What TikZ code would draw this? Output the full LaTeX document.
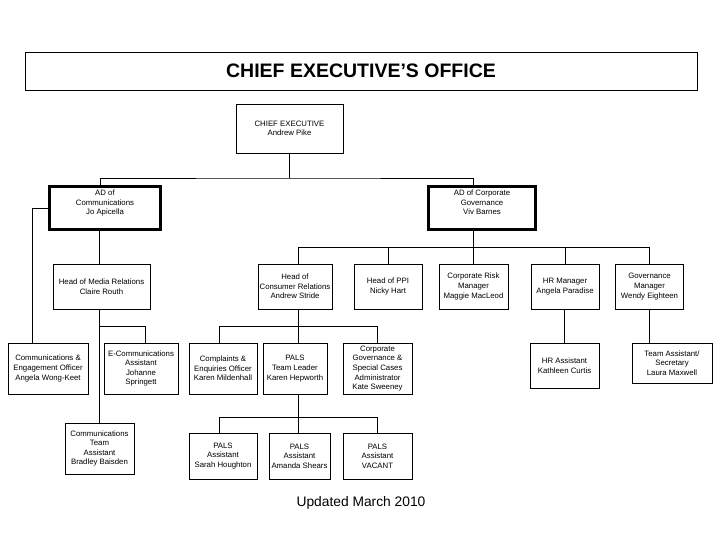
\documentclass[tikz,border=0pt]{standalone}
\usepackage{fontspec}
\setmainfont{Liberation Sans}
\usepackage{tikz}

\begin{document}
\begin{tikzpicture}[
  x=1pt, y=-1pt,
  every node/.style={font=\fontsize{7.8}{9.6}\selectfont, align=center, inner sep=1pt},
  post/.style={draw, line width=0.9pt, minimum height=45pt},
  director/.style={draw, line width=2.7pt, minimum height=43.4pt, text depth=11pt},
  link/.style={line width=0.9pt}
]
\useasboundingbox (0,0) rectangle (720,540);

% Office banner.
\node[draw, line width=0.9pt, minimum width=672pt, minimum height=38pt,
  font=\fontsize{19.5}{23}\selectfont\bfseries] (office) at (361,71)
  {CHIEF EXECUTIVE’S OFFICE};

% Chief executive and the two assistant directors.
\node[post, minimum width=107pt, minimum height=49pt] (ceo) at (289.5,128.5)
  {CHIEF EXECUTIVE\\Andrew Pike};
\node[director, minimum width=111pt] (adcomm) at (105,208)
  {AD of\\Communications\\Jo Apicella};
\node[director, minimum width=107pt] (adcg) at (482,208)
  {AD of Corporate\\Governance\\Viv Barnes};

% Communications team.
\node[post, minimum width=97pt] (media) at (101.5,286.5)
  {Head of Media Relations\\Claire Routh};
\node[post, minimum width=80pt, minimum height=51pt] (ce) at (48,368.5)
  {Communications \&\\Engagement Officer\\Angela Wong-Keet};
\node[post, minimum width=74pt, minimum height=51pt] (ecomm) at (141,368.5)
  {E-Communications\\Assistant\\Johanne\\Springett};
\node[post, minimum width=69pt, minimum height=51pt] (commta) at (99.5,448.5)
  {Communications\\Team\\Assistant\\Bradley Baisden};

% Corporate governance team.
\node[post, minimum width=74pt] (hcr) at (295,286.5)
  {Head of\\Consumer Relations\\Andrew Stride};
\node[post, minimum width=68pt] (ppi) at (388,286.5)
  {Head of PPI\\Nicky Hart};
\node[post, minimum width=69pt] (risk) at (473.5,286.5)
  {Corporate Risk\\Manager\\Maggie MacLeod};
\node[post, minimum width=68pt] (hr) at (565,286.5)
  {HR Manager\\Angela Paradise};
\node[post, minimum width=68pt] (gov) at (649.5,286.5)
  {Governance\\Manager\\Wendy Eighteen};
\node[post, minimum width=69pt] (hrasst) at (564.5,365.5)
  {HR Assistant\\Kathleen Curtis};
\node[post, minimum width=80pt, minimum height=40pt] (teamasst) at (672,363)
  {Team Assistant/\\Secretary\\Laura Maxwell};

% Consumer relations and PALS.
\node[post, minimum width=68pt, minimum height=51pt] (compl) at (223,368.5)
  {Complaints \&\\Enquiries Officer\\Karen Mildenhall};
\node[post, minimum width=64pt, minimum height=51pt] (palstl) at (295,368.5)
  {PALS\\Team Leader\\Karen Hepworth};
\node[post, minimum width=69pt, minimum height=51pt] (cgsc) at (377.5,368.5)
  {Corporate\\Governance \&\\Special Cases\\Administrator\\Kate Sweeney};
\node[post, minimum width=68pt, minimum height=46pt] (pals1) at (223,456)
  {PALS\\Assistant\\Sarah Houghton};
\node[post, minimum width=61pt, minimum height=46pt] (pals2) at (299.5,456)
  {PALS\\Assistant\\Amanda Shears};
\node[post, minimum width=69pt, minimum height=46pt] (pals3) at (377.5,456)
  {PALS\\Assistant\\VACANT};

% Reporting lines.
\coordinate (ceobar) at (ceo.south |- 0,178);
\draw[link] (ceo.south) -- (ceobar);
\draw[link] ([xshift=-5pt]adcomm.north) |- (ceobar) -| ([xshift=-9pt]adcg.north);

\draw[link] (adcomm.west) -| ([xshift=-16pt]ce.north);
\draw[link] ([xshift=-6pt]adcomm.south) -- ([xshift=-6pt]adcomm.south |- media.north);
\draw[link] (commta.north) -- (commta.north |- media.south);
\coordinate (mediabar) at (commta.north |- 0,326);
\draw[link] (mediabar) -| ([xshift=4pt]ecomm.north);

\draw[link] ([xshift=-9pt]adcg.south) -- ++(0,16) coordinate (cgbar);
\draw[link] ([xshift=3pt]hcr.north) |- (cgbar) -| (gov.north);
\foreach \post in {ppi,risk,hr}
  \draw[link] (\post.north) -- (\post.north |- cgbar);
\draw[link] (hrasst.north) -- (hrasst.north |- hr.south);
\draw[link] (gov.south) -- (gov.south |- teamasst.north);

\draw[link] ([xshift=3pt]hcr.south) -- ++(0,17) coordinate (hcrbar);
\draw[link] ([xshift=-4pt]compl.north) |- (hcrbar) -| (cgsc.north);
\draw[link] ([xshift=3pt]palstl.north) -- (hcrbar);

\draw[link] ([xshift=3pt]palstl.south) -- ++(0,23) coordinate (palsbar);
\draw[link] ([xshift=-4pt]pals1.north) |- (palsbar) -| (pals3.north);
\draw[link] ([xshift=-1.5pt]pals2.north) -- (palsbar);

% Footer.
\node[font=\fontsize{13.8}{16}\selectfont] (updated) at (361,503) {Updated March 2010};
\end{tikzpicture}
\end{document}
